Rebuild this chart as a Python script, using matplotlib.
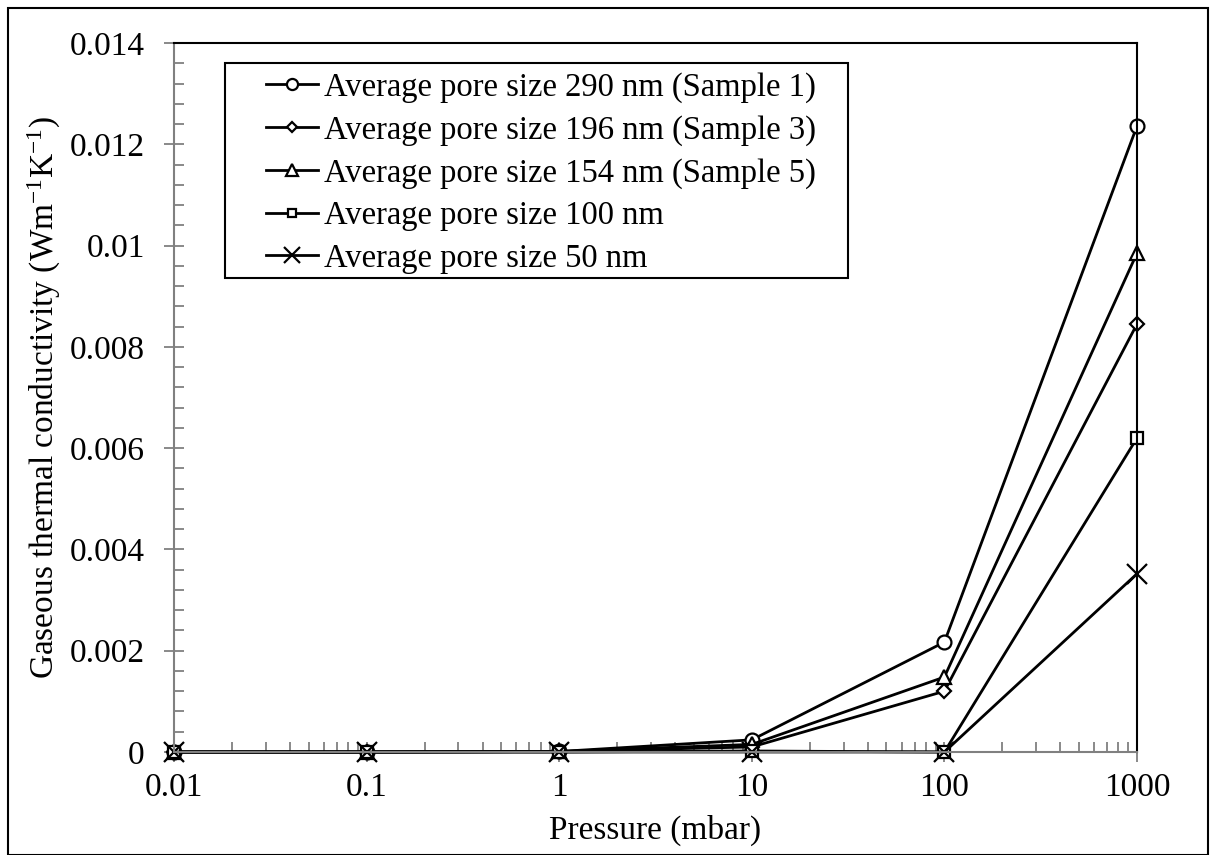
import numpy as np
import matplotlib
matplotlib.use("Agg")
import matplotlib.pyplot as plt
from matplotlib.ticker import FixedLocator, FuncFormatter, LogLocator, NullFormatter, MultipleLocator

plt.rcParams['font.family'] = ['Liberation Serif', 'DejaVu Serif']
plt.rcParams['mathtext.fontset'] = 'custom'
plt.rcParams['mathtext.rm'] = 'Liberation Serif'
plt.rcParams['mathtext.it'] = 'Liberation Serif:italic'

pressure = [0.01, 0.1, 1, 10, 100, 1000]
k_290 = [0.0, 0.0, 0.00001, 0.00024, 0.00217, 0.01236]
k_196 = [0.0, 0.0, 0.00001, 0.00010, 0.00120, 0.00845]
k_154 = [0.0, 0.0, 0.00001, 0.00015, 0.00148, 0.00985]
k_100 = [0.0, 0.0, 0.0, 0.00002, 0.0, 0.00620]
k_50 = [0.0, 0.0, 0.0, 0.0, 0.0, 0.00352]

labels = ["Average pore size 290 nm (Sample 1)",
          "Average pore size 196 nm (Sample 3)",
          "Average pore size 154 nm (Sample 5)",
          "Average pore size 100 nm",
          "Average pore size 50 nm"]
markers = ['o', 'D', '^', 's', 'x']
msizes = [10, 7, 10, 8, 14]
series = [k_290, k_196, k_154, k_100, k_50]

W, H = 1210, 855
fig = plt.figure(figsize=(W / 100, H / 100), dpi=100)
ax = fig.add_axes([174/W, 1-752/H, (1137-174)/W, (752-43)/H])

for ys, m, ms, lab in zip(series, markers, msizes, labels):
    ax.plot(pressure, ys, color='black', lw=2, marker=m, markersize=ms,
            markerfacecolor='white', markeredgecolor='black',
            markeredgewidth=1.6, label=lab, clip_on=False)

ax.set_xscale('log')
ax.set_xlim(0.01, 1000)
ax.set_ylim(0, 0.014)
ax.xaxis.set_major_locator(FixedLocator(pressure))
ax.xaxis.set_major_formatter(FuncFormatter(lambda v, p: f"{v:g}"))
ax.xaxis.set_minor_locator(LogLocator(base=10, subs=np.arange(2, 10)))
ax.xaxis.set_minor_formatter(NullFormatter())
ax.yaxis.set_major_locator(MultipleLocator(0.002))
ax.yaxis.set_minor_locator(MultipleLocator(0.0004))
ax.yaxis.set_major_formatter(FuncFormatter(lambda v, p: "0" if abs(v) < 1e-12 else f"{round(v, 4):g}"))

for s in ['left', 'bottom']:
    ax.spines[s].set_color('#808080')
    ax.spines[s].set_linewidth(1.5)
for s in ['top', 'right']:
    ax.spines[s].set_color('black')
    ax.spines[s].set_linewidth(1.5)

ax.tick_params(axis='both', which='major', direction='inout', length=14, width=1.3,
               color='#808080', labelsize=24, pad=8)
ax.tick_params(axis='y', which='major', pad=14)
ax.tick_params(axis='both', which='minor', direction='in', length=7, width=1.3,
               color='#808080')

ax.set_xlabel("Pressure (mbar)", fontsize=24, labelpad=8)
ax.set_ylabel("Gaseous thermal conductivity (Wm$^{\\mathregular{-1}}$K$^{\\mathregular{-1}}$)",
              fontsize=24, labelpad=5)

leg = ax.legend(loc='upper left', bbox_to_anchor=(266/W, 1-72/H),
                bbox_transform=fig.transFigure, fontsize=23.5, frameon=False,
                borderaxespad=0, borderpad=0,
                handlelength=1.6, handletextpad=0.18, labelspacing=0.37)
for h in leg.legend_handles:
    h.set_markersize(h.get_markersize() * 0.8)

# legend frame as in the original
fig.patches.append(plt.Rectangle((225/W, 1-278/H), (848-225)/W, (278-63)/H,
                                 transform=fig.transFigure, fill=False,
                                 edgecolor='black', lw=1.5, zorder=5))

fig.patches.append(plt.Rectangle((8/W, 0), 1 - 10/W, 1 - 8/H,
                                 transform=fig.transFigure, fill=False,
                                 edgecolor='black', lw=1.5))

fig.savefig("out.png", dpi=100)
